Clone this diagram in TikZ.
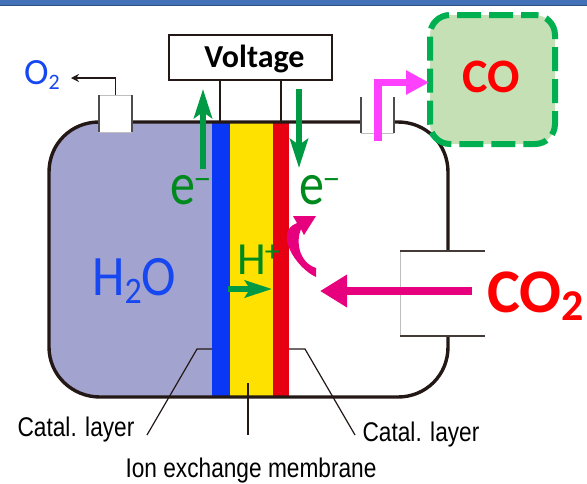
\documentclass[tikz,border=0pt]{standalone}
\usepackage{fontspec}
\setmainfont{Carlito}
\newfontfamily\labelfont{Liberation Sans}
\newfontfamily\minusfont{DejaVu Sans}
\usetikzlibrary{arrows.meta}
\newcommand{\fsz}[1]{\fontsize{#1}{#1}\selectfont}
\newcommand{\eminus}{e\hspace{-1.5pt}\raisebox{14pt}{\minusfont\fsz{21}−}}
\definecolor{darkline}{HTML}{231815}
\definecolor{cellblue}{HTML}{A3A3CF}
\definecolor{layerblue}{HTML}{0A37F5}
\definecolor{layeryellow}{HTML}{FFE100}
\definecolor{layerred}{HTML}{E60012}
\definecolor{barblue}{HTML}{4472B8}
\definecolor{txtblue}{HTML}{1747F0}
\definecolor{arrowgreen}{HTML}{009944}
\definecolor{txtgreen}{HTML}{008A1E}
\definecolor{pink}{HTML}{E6007E}
\definecolor{magent}{HTML}{FF40FF}
\definecolor{boxgreen}{HTML}{C5E0B4}
\definecolor{dashgreen}{HTML}{00B050}
\tikzset{
  lbl/.style={inner sep=0pt,anchor=base},
  leader/.style={draw=darkline,line width=1.2pt},
  catal/.style={lbl,font=\labelfont\fsz{27},xscale=0.84,transform shape},
  wire/.style={draw=darkline,line width=1.3pt},
  portside/.style={draw=black!70,line width=1.2pt},
  portlight/.style={draw=black!25,line width=0.7pt},
  tall/.style={yscale=#1,transform shape},
}
\begin{document}
\begin{tikzpicture}[x=1pt,y=-1pt]
\useasboundingbox (0,0) rectangle (587,483);
% top bar
\fill[barblue] (0,0) rectangle (587,5);
\fill[barblue!70!black] (0,4.5) rectangle (587,6);
% cell fill
\fill[cellblue] (49,172) -- (49,347) .. controls (49,375) and (72,397) .. (100,397) -- (212,397) -- (212,122) -- (99,122) .. controls (71,122) and (49,144) .. (49,172) -- cycle;
\fill[layerblue] (212,122) rectangle (230,397);
\fill[layeryellow] (230,122) rectangle (273,397);
\fill[layerred] (273,122) rectangle (289,397);
% vessel outline
\draw[darkline,line width=3.4pt] (448,251) -- (448,172) .. controls (448,144) and (426,122) .. (398,122) -- (99,122) .. controls (71,122) and (49,144) .. (49,172) -- (49,347) .. controls (49,375) and (72,397) .. (100,397) -- (398,397) .. controls (426,397) and (448,375) .. (448,347) -- (448,336);
% ports
\fill[white] (99,95) rectangle (132,132);
\draw[portlight] (99,95) -- (132,95) (99,132) -- (132,132);
\draw[portside] (99,95) -- (99,132) (132,95) -- (132,132);
\fill[white] (361,97) rectangle (394,133);
\draw[portlight] (361,133) -- (394,133);
\draw[portside] (361,97) -- (361,133) (394,97) -- (394,133);
\fill[white] (400,251) rectangle (485,336);
\draw[portlight] (400,251) -- (400,336);
\draw[darkline!85,line width=1.2pt] (400,251) -- (485,251) (400,336) -- (485,336);
% voltage
\node[draw=darkline,line width=1.3pt,fill=white,minimum width=163pt,minimum height=45pt,inner sep=0pt] (volt) at (250.5,57.5) {};
\node[lbl,font=\bfseries\fsz{32}] (volttxt) at (254.5,67) {Voltage};
\coordinate (wa) at (220,122);
\coordinate (wb) at (281,122);
\draw[wire] (wa) -- (wa |- volt.south);
\draw[wire] (wb) -- (wb |- volt.south);
% O2
\node[lbl,font=\fsz{37},text=txtblue,anchor=base west] (otwo) at (24,84) {O\raisebox{-0.16em}{\fsz{22}2}};
\coordinate (oport) at (115.5,95);
\coordinate (ocorner) at (115.5,78);
\coordinate (otip) at (71,78);
\draw[wire,-{Stealth[length=8pt,width=8pt]}] (oport) -- (ocorner) -- (otip);
% CO box
\node[draw=dashgreen,fill=boxgreen,line width=6pt,rounded corners=20pt,minimum width=125pt,minimum height=129pt,inner sep=0pt,dash pattern=on 24pt off 8pt,dash phase=10pt] (cobox) at (492.5,79.5) {};
\node[lbl,font=\bfseries\fsz{48},text=red] (cotxt) at (491,92) {CO};
% magenta arrow
\coordinate (ms) at (378,140.5);
\coordinate (mc) at (378,82.5);
\coordinate (mt) at (429,82.5);
\draw[magent,line width=7.5pt,-{Triangle[length=23pt,width=23pt]}] (ms) -- (mc) -- (mt);
% green arrows
\coordinate (ua) at (203,169);
\coordinate (ub) at (203,89);
\coordinate (da) at (299,89);
\coordinate (db) at (299,168);
\coordinate (ha) at (228,289);
\coordinate (hb) at (272,289);
\draw[arrowgreen,line width=6pt,-{Stealth[length=29pt,width=18pt,inset=6pt]}] (ua) -- (ub);
\draw[arrowgreen,line width=6pt,-{Stealth[length=29pt,width=18pt,inset=6pt]}] (da) -- (db);
\draw[arrowgreen,line width=6pt,-{Stealth[length=27pt,width=17pt,inset=5pt]}] (ha) -- (hb);
% labels
\node[lbl,font=\fsz{50},text=txtgreen,anchor=base west,tall=1.2] (eleft) at (170,204) {\eminus};
\node[lbl,font=\fsz{50},text=txtgreen,anchor=base west,tall=1.2] (eright) at (299,204) {\eminus};
\node[lbl,font=\fsz{46},text=txtgreen,anchor=base west] (hplus) at (237,274) {H\hspace{-1pt}\raisebox{13pt}{\fsz{30}+}};
\node[lbl,font=\fsz{52},text=txtblue,anchor=base west,tall=1.1] (water) at (92,295) {H\raisebox{-0.14em}{\fsz{34}2}O};
\node[lbl,font=\bfseries\fsz{62},text=red,anchor=base west] (cotwo) at (487,312) {CO\raisebox{-0.14em}{\fsz{44}2}};
% pink arrows
\coordinate (pa) at (472,291);
\coordinate (pb) at (320,291);
\draw[pink,line width=8pt,-{Triangle[length=27pt,width=31pt]}] (pa) -- (pb);
\fill[pink] (293,216) -- (316,216) -- (304,235) -- (301,229) .. controls (296,240) and (298,262) .. (316,268) -- (316,277) .. controls (296,268) and (273,232) .. (297,223) -- cycle;
% leaders
\coordinate (la) at (212,349);
\coordinate (lb) at (197,349);
\coordinate (lc) at (147,435);
\coordinate (ra) at (289,349);
\coordinate (rb) at (305,349);
\coordinate (rc) at (355,435);
\coordinate (ma) at (248,383);
\coordinate (mb) at (248,435);
\draw[leader] (la) -- (lb) -- (lc);
\draw[leader] (ra) -- (rb) -- (rc);
\draw[leader] (ma) -- (mb);
\node[catal] (cl) at (76,436) {Catal. layer};
\node[catal] (cr) at (421,441) {Catal. layer};
\node[catal] (ion) at (251,477) {Ion exchange membrane};
\end{tikzpicture}
\end{document}
